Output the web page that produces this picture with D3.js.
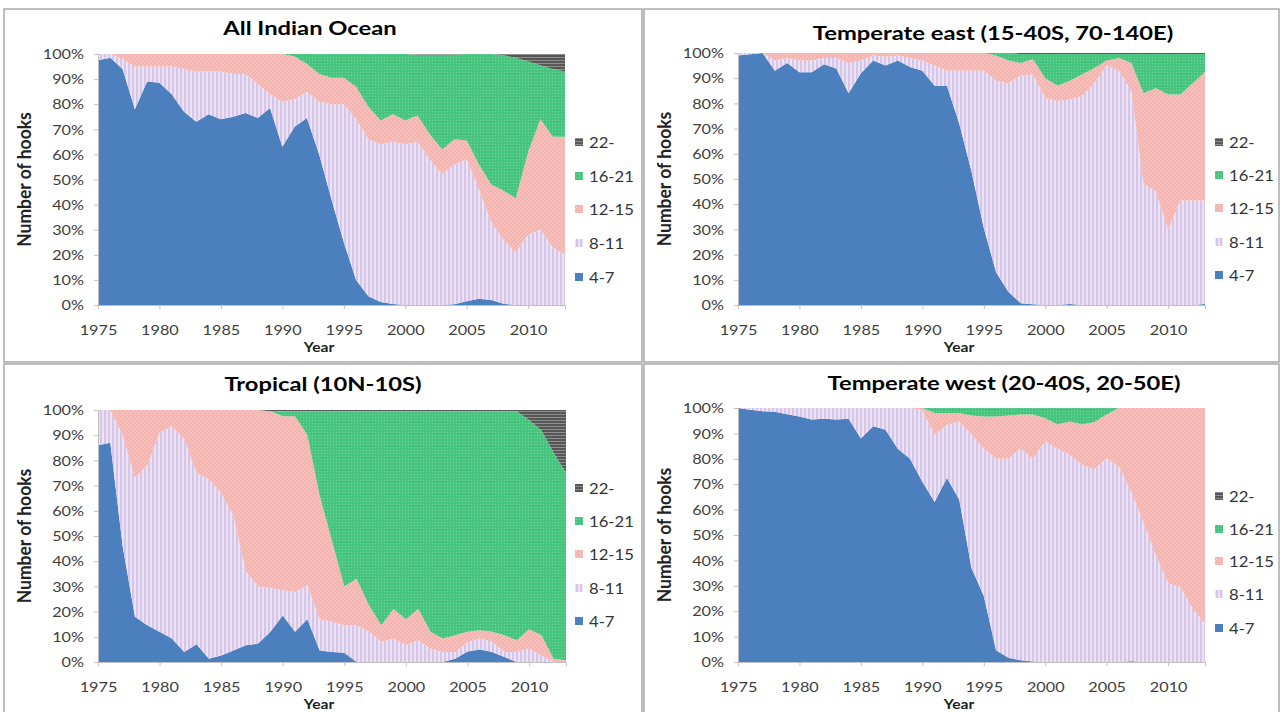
<!DOCTYPE html>
<html><head><meta charset="utf-8">
<script src="https://cdn.jsdelivr.net/npm/d3@7"></script>
<style>body{margin:0;background:#fff} svg{display:block}</style>
</head><body>
<svg id="c" width="1282" height="712"></svg>
<script>
// ---------- DATA ----------
const years = [1975,1976,1977,1978,1979,1980,1981,1982,1983,1984,1985,1986,1987,1988,1989,1990,1991,1992,1993,1994,1995,1996,1997,1998,1999,2000,2001,2002,2003,2004,2005,2006,2007,2008,2009,2010,2011,2012,2013];
const hookClasses = ["4-7","8-11","12-15","16-21","22-"];
const xTickYears = [1975,1980,1985,1990,1995,2000,2005,2010];
const yTickValues = [0,10,20,30,40,50,60,70,80,90,100];
const yTickLabels = ["0%","10%","20%","30%","40%","50%","60%","70%","80%","90%","100%"];
const titles = ["All Indian Ocean","Temperate east (15-40S, 70-140E)","Tropical (10N-10S)","Temperate west (20-40S, 20-50E)"];
const yAxisTitle = "Number of hooks";
const xAxisTitle = "Year";

// All Indian Ocean (% of hooks by hooks-between-floats class)
const allIO_4_7   = [97.5,98.5,94,78,89,88.5,84,77,73,76,74,75,76.5,74.5,78.5,63,71,74.5,60,42,25,10,3.5,1.2,0.4,0,0,0,0,0.3,1.5,2.5,2,0.5,0,0,0,0,0];
const allIO_8_11  = [2.5,1.5,4,17,6,6.5,11,17,20,17,19,17,15.5,13.5,5.5,18,11,10.5,21,38,55,64,62.5,62.8,64.6,64,65,58,52,55.7,56.5,43.5,31,25.5,21,28,30,23,20];
const allIO_12_15 = [0,0,2,5,5,5,5,6,7,7,7,8,8,12,16,19,17,11,11,10.5,10.5,13,13,9.5,11,9.5,10.5,10,10,10,7.5,10,15,19.5,21.5,33,44,44,47];
const allIO_16_21 = [0,0,0,0,0,0,0,0,0,0,0,0,0,0,0,0,1,4,8,9.5,9.5,13,21,26.5,24,26.5,24.2,31.7,37.7,33.7,34.5,44,52,54,56,36,21.5,27,26];
const allIO_22    = [0,0,0,0,0,0,0,0,0,0,0,0,0,0,0,0,0,0,0,0,0,0,0,0,0,0,0.3,0.3,0.3,0.3,0,0,0,0.5,1.5,3,4.5,6,7];

// Temperate east
const east_4_7   = [99,99.5,100,93,96,92.4,92.4,95.5,93.8,84,92,97,95,97,94.4,93,87,87,72,53,30.6,13,5.3,0.7,0.3,0,0,0.4,0,0,0,0,0,0,0,0,0,0,0.4];
const east_8_11  = [1,0.5,0,4,2,4.6,4.6,2.5,4.2,12,5,2,3.5,2,3.6,4,8,6,21,40,62.4,76,82.7,90.3,91.2,82,81,81.1,83,88,95,93,85,48,45,30,41.5,41.5,41.1];
const east_12_15 = [0,0,0,3,2,3,3,2,2,4,3,1,1.5,1,2,3,5,7,7,7,7,10,9,5,6,8,6,7.5,8.5,6,2,5,11,36,41,53.5,42,46.5,51];
const east_16_21 = [0,0,0,0,0,0,0,0,0,0,0,0,0,0,0,0,0,0,0,0,0,1,3,3.6,2.1,9.6,12.6,10.6,8.1,5.6,2.6,1.6,3.6,15.6,13.6,16.1,16.1,11.6,7.1];
const east_22    = [0,0,0,0,0,0,0,0,0,0,0,0,0,0,0,0,0,0,0,0,0,0,0,0.4,0.4,0.4,0.4,0.4,0.4,0.4,0.4,0.4,0.4,0.4,0.4,0.4,0.4,0.4,0.4];

// Tropical
const trop_4_7   = [86,87,46,18,14.6,12,9.3,4,7,1.3,2.6,4.6,6.6,7.3,12,18.5,12,17,4.6,4,3.7,0,0,0,0,0,0,0,0,1.3,4.2,5,4,2,0,0,0,0,0];
const trop_8_11  = [14,13,44,55,63.4,79,84.2,84.5,68,71.2,64.4,53.4,29.4,22.7,17.4,10,15.8,13.5,12.4,12,10.9,14.6,12,8,9.3,6.6,8.6,5.3,4,2.7,3.5,4.3,4,2,4,5.3,2.6,0,0];
const trop_12_15 = [0,0,10,27,22,9,6.5,11.5,25,27.5,33,42,64,70,70.1,69,69.7,59.5,49,32,15.4,18.4,10.5,6.6,11.7,10.4,12.4,6.7,5.3,6.6,4.3,3.3,4,6.6,4.6,7.7,8,1.3,0.7];
const trop_16_21 = [0,0,0,0,0,0,0,0,0,0,0,0,0,0,0,2,2,9.5,33.5,51.5,69.5,66.5,77,84.9,78.5,82.5,78.5,87.5,90.2,88.9,87.5,86.9,87.5,88.9,90.9,83,81.4,81.7,74.3];
const trop_22    = [0,0,0,0,0,0,0,0,0,0,0,0,0,0,0.5,0.5,0.5,0.5,0.5,0.5,0.5,0.5,0.5,0.5,0.5,0.5,0.5,0.5,0.5,0.5,0.5,0.5,0.5,0.5,0.5,4,8,17,25];

// Temperate west
const west_4_7   = [100,99.3,98.7,98.5,97.5,96.7,95.5,95.8,95.5,95.8,88,92.8,91.4,84,80,71,63,72.4,64,37,26,4.6,1.7,0.7,0.2,0,0,0,0,0,0,0,0.3,0,0,0,0,0,0];
const west_8_11  = [0,0.7,1.3,1.5,2.5,3.3,4.5,4.2,4.5,4.2,12,7.2,8.6,16,20,28,26.5,21,30.7,52.5,58,75.4,78.3,83.3,79.8,86.8,84,81.6,77.6,76,80,77,66.7,55,42,31,29.5,21,15];
const west_12_15 = [0,0,0,0,0,0,0,0,0,0,0,0,0,0,0,1,8.5,4.6,3.3,7.5,12.7,16.7,17,13.4,17.4,9.2,9.5,13.1,15.9,18.5,17.4,23,33,45,58,69,70.5,79,85];
const west_16_21 = [0,0,0,0,0,0,0,0,0,0,0,0,0,0,0,0,2,2,2,3,3.3,3.3,3,2.6,2.6,4,6.5,5.3,6.5,5.5,2.6,0,0,0,0,0,0,0,0];
const west_22    = [0,0,0,0,0,0,0,0,0,0,0,0,0,0,0,0,0,0,0,0,0,0,0,0,0,0,0,0,0,0,0,0,0,0,0,0,0,0,0];

// ---------- LAYOUT ----------
const panels = [
  {title: titles[0], series: [allIO_4_7, allIO_8_11, allIO_12_15, allIO_16_21, allIO_22],
   box: [4, 9, 642, 362], plot: {l: 98, r: 565, t: 54, b: 305}, titleXY: [310, 28], ylabX: 24,
   legX: 575, legY: [142, 176, 209, 243, 277]},
  {title: titles[1], series: [east_4_7, east_8_11, east_12_15, east_16_21, east_22],
   box: [644, 9, 1279, 362], plot: {l: 738, r: 1205, t: 53, b: 305}, titleXY: [993, 33], ylabX: 664,
   legX: 1215, legY: [142, 175, 208, 242, 275]},
  {title: titles[2], series: [trop_4_7, trop_8_11, trop_12_15, trop_16_21, trop_22],
   box: [4, 364, 642, 716], plot: {l: 98, r: 566, t: 410, b: 662}, titleXY: [323, 384], ylabX: 24,
   legX: 575, legY: [488, 521, 554, 588, 621]},
  {title: titles[3], series: [west_4_7, west_8_11, west_12_15, west_16_21, west_22],
   box: [644, 364, 1279, 716], plot: {l: 738, r: 1205, t: 408, b: 662}, titleXY: [1004, 383], ylabX: 664,
   legX: 1215, legY: [496, 529, 561, 594, 628]}
];

const FONT = "Lato, 'Open Sans', sans-serif";
const svg = d3.select("#c");
const defs = svg.append("defs");

// fill patterns
function makePattern(id, w, h, bg, build) {
  const p = defs.append("pattern").attr("id", id).attr("patternUnits", "userSpaceOnUse")
    .attr("width", w).attr("height", h);
  p.append("rect").attr("width", w).attr("height", h).attr("fill", bg);
  build(p);
}
makePattern("p811", 4, 4, "#ece2f5", p => p.append("rect").attr("x", 0).attr("width", 2).attr("height", 4).attr("fill", "#d7c5e7"));
makePattern("p1215", 4, 4, "#f2b6b2", p => p.append("path").attr("d", "M0,4L4,0M-1,1L1,-1M3,5L5,3").attr("stroke", "#f6c8c5").attr("stroke-width", 1));
makePattern("p1621", 3, 3, "#47c47d", p => p.append("rect").attr("width", 1).attr("height", 1).attr("fill", "#78d6a0"));
makePattern("p22", 4, 3, "#565656", p => p.append("rect").attr("width", 4).attr("height", 1).attr("fill", "#8e8e8e"));
const fills = ["#4b7fbe", "url(#p811)", "url(#p1215)", "url(#p1621)", "url(#p22)"];

function stretchedText(g, x, y, txt, o) {
  return g.append("text")
    .attr("transform", `translate(${x},${y}) scale(${o.sx || 1},1)`)
    .attr("text-anchor", o.anchor || "start")
    .attr("dominant-baseline", "central")
    .style("font-family", FONT).style("font-size", o.size + "px")
    .style("font-weight", o.bold ? "700" : "400")
    .attr("fill", o.color || "#000").text(txt);
}

panels.forEach(P => {
  const g = svg.append("g");
  // panel frame
  g.append("rect").attr("x", P.box[0]).attr("y", P.box[1])
    .attr("width", P.box[2] - P.box[0]).attr("height", P.box[3] - P.box[1])
    .attr("fill", "none").attr("stroke", "#a9a9a9").attr("stroke-width", 1.5);

  const x = d3.scaleLinear().domain([years[0], years[years.length - 1]]).range([P.plot.l, P.plot.r]);
  const y = d3.scaleLinear().domain([0, 100]).range([P.plot.b, P.plot.t]);

  const rows = years.map((yr, i) => {
    const r = {year: yr};
    hookClasses.forEach((k, j) => r[k] = P.series[j][i]);
    return r;
  });
  const stacked = d3.stack().keys(hookClasses)(rows);
  const area = d3.area().x(d => x(d.data.year)).y0(d => y(d[0])).y1(d => y(Math.min(100, d[1])));
  g.selectAll("path.layer").data(stacked).join("path").attr("class", "layer")
    .attr("d", area).attr("fill", (d, i) => fills[i]);

  // axes
  const ya = g.append("g").attr("transform", `translate(${P.plot.l},0)`)
    .call(d3.axisLeft(y).tickValues(yTickValues).tickSize(4).tickFormat((d, i) => yTickLabels[i]));
  const xa = g.append("g").attr("transform", `translate(0,${P.plot.b})`)
    .call(d3.axisBottom(x).tickValues(xTickYears).tickSize(4).tickFormat(d3.format("d")));
  [ya, xa].forEach(a => {
    a.select(".domain").attr("stroke", "#bfbfbf");
    a.selectAll(".tick line").attr("stroke", "#bfbfbf");
    a.selectAll(".tick text").style("font-family", FONT).style("font-size", "12.5px").attr("fill", "#3d3d3d");
  });
  ya.selectAll(".tick text").attr("x", null).attr("dy", null).attr("dominant-baseline", "central")
    .attr("transform", "translate(-14,0) scale(1.3,1)");
  xa.selectAll(".tick text").attr("y", null).attr("dy", null).attr("dominant-baseline", "central")
    .attr("transform", "translate(0,25) scale(1.3,1)");

  // titles
  stretchedText(g, P.titleXY[0], P.titleXY[1], P.title, {size: 19, bold: true, sx: 1.25, anchor: "middle"});
  stretchedText(g, P.plot.l + 221, P.plot.b + 42, xAxisTitle, {size: 12.5, bold: true, sx: 1.25, anchor: "middle", color: "#222"});
  g.append("text")
    .attr("transform", `translate(${P.ylabX},${(P.plot.t + P.plot.b) / 2}) rotate(-90) scale(1,1.1)`)
    .attr("text-anchor", "middle").attr("dominant-baseline", "central")
    .style("font-family", FONT).style("font-size", "17.5px").style("font-weight", "700")
    .attr("fill", "#222").text(yAxisTitle);

  // legend (top entry = 22-)
  const order = [4, 3, 2, 1, 0];
  order.forEach((si, k) => {
    const ly = P.legY[k];
    g.append("rect").attr("x", P.legX).attr("y", ly - 4).attr("width", 8).attr("height", 8).attr("fill", fills[si]);
    stretchedText(g, P.legX + 14, ly, hookClasses[si], {size: 14.5, sx: 1.15, color: "#333"});
  });
});
</script>
</body></html>
